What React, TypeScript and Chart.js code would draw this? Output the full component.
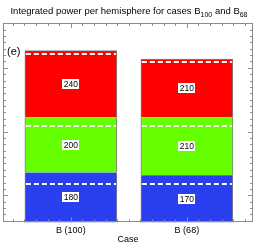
import React, { useEffect, useRef } from "react";
import { Chart, registerables } from "chart.js";

Chart.register(...registerables);

const categories = ["B (100)", "B (68)"];
const categoryPositions = [1, 2];
const blueValues = [180, 170];
const greenValues = [200, 210];
const redValues = [240, 210];
// dashed marker levels (cumulative values) inside each segment
const blueDash = [138, 138];
const greenDash = [348, 348];
const redDash = [609, 578];
const yMax = 720;
const yMinorStep = 23;
const yMajorStart = 98;
const yMajorStep = 230;
const xMinorStep = 0.1;

const FONT = "'Liberation Sans', Arial, sans-serif";

const decorPlugin = {
  id: "decor",
  afterDatasetsDraw(chart: any) {
    const ctx = chart.ctx;
    const yS = chart.scales.y;
    const xS = chart.scales.x;
    const dashSets = [blueDash, greenDash, redDash];
    // dashed white lines
    ctx.save();
    ctx.strokeStyle = "#ffffff";
    ctx.lineWidth = 2;
    ctx.setLineDash([5, 3]);
    for (let d = 0; d < 3; d++) {
      const meta = chart.getDatasetMeta(d);
      meta.data.forEach((el: any, i: number) => {
        const w = el.width;
        const y = Math.round(yS.getPixelForValue(dashSets[d][i]));
        ctx.beginPath();
        ctx.moveTo(el.x - w / 2 + 1, y);
        ctx.lineTo(el.x + w / 2 - 1, y);
        ctx.stroke();
      });
    }
    ctx.restore();
    // value labels
    ctx.save();
    ctx.font = `8.5px ${FONT}`;
    ctx.textAlign = "center";
    ctx.textBaseline = "middle";
    const vals = [blueValues, greenValues, redValues];
    for (let d = 0; d < 3; d++) {
      const meta = chart.getDatasetMeta(d);
      meta.data.forEach((el: any, i: number) => {
        const txt = String(vals[d][i]);
        const cy = (el.y + el.base) / 2;
        const tw = ctx.measureText(txt).width;
        ctx.fillStyle = "#ffffff";
        ctx.fillRect(Math.round(el.x - tw / 2 - 1.5), Math.round(cy - 5), Math.round(tw + 3), 10);
        ctx.fillStyle = "#000000";
        ctx.fillText(txt, el.x, cy + 0.5);
      });
    }
    ctx.restore();
    // frame + ticks
    const a = chart.chartArea;
    ctx.save();
    ctx.strokeStyle = "#8c8c8c";
    ctx.lineWidth = 1;
    ctx.strokeRect(Math.round(a.left) + 0.5, Math.round(a.top) + 0.5, Math.round(a.right - a.left) - 1, Math.round(a.bottom - a.top) - 1);
    ctx.beginPath();
    for (let v = yMajorStart % yMinorStep; v <= yMax; v += yMinorStep) {
      const y = Math.round(yS.getPixelForValue(v)) + 0.5;
      const isMajor = Math.abs(((v - yMajorStart) % yMajorStep + yMajorStep) % yMajorStep) < 1;
      const len = isMajor ? 4 : 2;
      ctx.moveTo(a.left, y);
      ctx.lineTo(a.left + len + 1, y);
      ctx.moveTo(a.right, y);
      ctx.lineTo(a.right - len - 1, y);
    }
    for (let v = Math.ceil(xS.min / xMinorStep) * xMinorStep; v <= xS.max; v += xMinorStep) {
      const x = Math.round(xS.getPixelForValue(v)) + 0.5;
      const isMajor = Math.abs(v - Math.round(v)) < 0.01;
      const len = isMajor ? 4 : 2;
      ctx.moveTo(x, a.bottom);
      ctx.lineTo(x, a.bottom - len - 1);
      ctx.moveTo(x, a.top);
      ctx.lineTo(x, a.top + len + 1);
    }
    ctx.stroke();
    ctx.restore();
    // panel tag
    ctx.save();
    ctx.fillStyle = "#000";
    ctx.font = `11px ${FONT}`;
    ctx.textBaseline = "middle";
    ctx.textAlign = "left";
    ctx.fillText("(e)", 7, 52);
    ctx.restore();
    // title with subscripts
    ctx.save();
    ctx.fillStyle = "#000";
    ctx.textBaseline = "alphabetic";
    ctx.textAlign = "left";
    const parts: [string, boolean][] = [
      ["Integrated power per hemisphere for cases B", false],
      ["100", true],
      [" and B", false],
      ["68", true],
    ];
    const mainF = `9.5px ${FONT}`;
    const subF = `7px ${FONT}`;
    let total = 0;
    parts.forEach(([t, s]) => {
      ctx.font = s ? subF : mainF;
      total += ctx.measureText(t).width;
    });
    let x = (a.left + a.right) / 2 - total / 2 + 1;
    const base = 14;
    parts.forEach(([t, s]) => {
      ctx.font = s ? subF : mainF;
      ctx.fillText(t, x, s ? base + 3 : base);
      x += ctx.measureText(t).width;
    });
    ctx.restore();
  },
};

export default function App() {
  const ref = useRef<HTMLCanvasElement>(null);
  useEffect(() => {
    const mk = (vals: number[]) => vals.map((v, i) => ({ x: categoryPositions[i], y: v }));
    const side = { left: 1, right: 1, top: 0, bottom: 0 };
    const chart = new Chart(ref.current!, {
      type: "bar",
      data: {
        datasets: [
          { label: "blue", data: mk(blueValues), backgroundColor: "#2a40f0", borderColor: "#808080", borderWidth: side, borderSkipped: false, barThickness: 92 } as any,
          { label: "green", data: mk(greenValues), backgroundColor: "#66ff00", borderColor: "#808080", borderWidth: side, borderSkipped: false, barThickness: 92 } as any,
          { label: "red", data: mk(redValues), backgroundColor: "#ff0000", borderColor: "#808080", borderWidth: { left: 1, right: 1, top: 1, bottom: 0 }, borderSkipped: false, barThickness: 92 } as any,
        ],
      },
      options: {
        animation: false,
        responsive: false,
        maintainAspectRatio: false,
        layout: { padding: { left: 3, right: 5, top: 23, bottom: 0 } },
        plugins: { legend: { display: false }, tooltip: { enabled: false }, title: { display: false } },
        scales: {
          x: {
            type: "linear",
            min: 0.415,
            max: 2.57,
            offset: false,
            stacked: true,
            grid: { display: false, drawTicks: false, offset: false },
            border: { display: false },
            afterBuildTicks: (s: any) => {
              s.ticks = categoryPositions.map((v) => ({ value: v }));
            },
            ticks: {
              padding: 3,
              color: "#000",
              font: { family: FONT, size: 9 },
              maxRotation: 0,
              autoSkip: false,
              callback: (v: any) => {
                const i = categoryPositions.indexOf(Number(v));
                return i >= 0 ? categories[i] : "";
              },
            },
            title: { display: true, text: "Case", color: "#000", font: { family: FONT, size: 9 }, padding: { top: -5, bottom: 0 } },
          },
          y: {
            stacked: true,
            min: 0,
            max: yMax,
            display: false,
          },
        },
      } as any,
      plugins: [decorPlugin],
    });
    return () => chart.destroy();
  }, []);
  return (
    <div style={{ position: "fixed", left: 0, top: 0, width: 258, height: 245, background: "#fff" }}>
      <canvas ref={ref} width={258} height={245} style={{ width: 258, height: 245, display: "block" }} />
    </div>
  );
}
